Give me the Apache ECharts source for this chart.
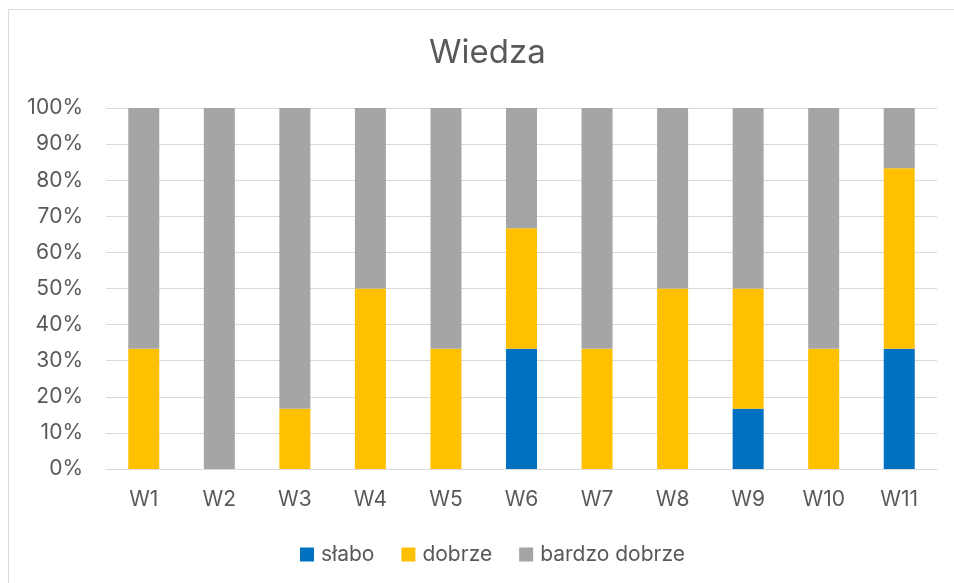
<!DOCTYPE html>
<html>
<head>
<meta charset="utf-8">
<script src="https://cdn.jsdelivr.net/npm/echarts@6/dist/echarts.min.js"></script>
<style>
  html, body { margin: 0; padding: 0; background: #fff; }
  #chart { width: 954px; height: 583px; }
</style>
</head>
<body>
<div id="chart"></div>
<script>
const categories = ['W1', 'W2', 'W3', 'W4', 'W5', 'W6', 'W7', 'W8', 'W9', 'W10', 'W11'];
// percent of answers per question
const slabo = [0, 0, 0, 0, 0, 33.33, 0, 0, 16.67, 0, 33.33];
const dobrze = [33.33, 0, 16.67, 50, 33.33, 33.33, 33.33, 50, 33.33, 33.33, 50];
const bardzoDobrze = [66.67, 100, 83.33, 50, 66.67, 33.33, 66.67, 50, 50, 66.67, 16.67];

const FONT = 'Inter, "Noto Sans", sans-serif';
const TEXT = '#595959';
const GRIDLINE = '#d9d9d9';

const chart = echarts.init(document.getElementById('chart'));

function barSeries(name, data, color) {
  return {
    name: name,
    type: 'bar',
    stack: 'total',
    data: data,
    barWidth: 31,
    itemStyle: { color: color },
    emphasis: { disabled: true }
  };
}

chart.setOption({
  animation: false,
  textStyle: { fontFamily: FONT },
  graphic: [{
    type: 'rect',
    shape: { x: 8.5, y: 9.5, width: 1000, height: 1000 },
    style: { fill: 'none', stroke: GRIDLINE, lineWidth: 1 },
    silent: true
  }],
  title: {
    text: 'Wiedza',
    left: 424,
    top: 32,
    textStyle: { fontFamily: FONT, fontSize: 33, fontWeight: 'normal', color: TEXT }
  },
  legend: {
    data: ['słabo', 'dobrze', 'bardzo dobrze'],
    left: 295,
    top: 539,
    icon: 'rect',
    itemWidth: 14,
    itemHeight: 14,
    itemGap: 27,
    textStyle: { fontFamily: FONT, fontSize: 21, color: TEXT, padding: [0, 0, 0, 2] }
  },
  grid: { left: 106, right: 17, top: 108, bottom: 114 },
  xAxis: {
    type: 'category',
    data: categories,
    axisLine: { lineStyle: { color: GRIDLINE, width: 1 } },
    axisTick: { show: false },
    axisLabel: { color: TEXT, fontSize: 21, margin: 20, fontFamily: FONT }
  },
  yAxis: {
    type: 'value',
    min: 0,
    max: 100,
    interval: 10,
    axisLine: { show: false },
    axisTick: { show: false },
    splitLine: { lineStyle: { color: GRIDLINE, width: 1 } },
    axisLabel: { color: TEXT, fontSize: 21, margin: 23, fontFamily: FONT, formatter: '{value}%' }
  },
  series: [
    barSeries('słabo', slabo, '#0070C0'),
    barSeries('dobrze', dobrze, '#FFC000'),
    barSeries('bardzo dobrze', bardzoDobrze, '#A5A5A5')
  ]
});
</script>
</body>
</html>
